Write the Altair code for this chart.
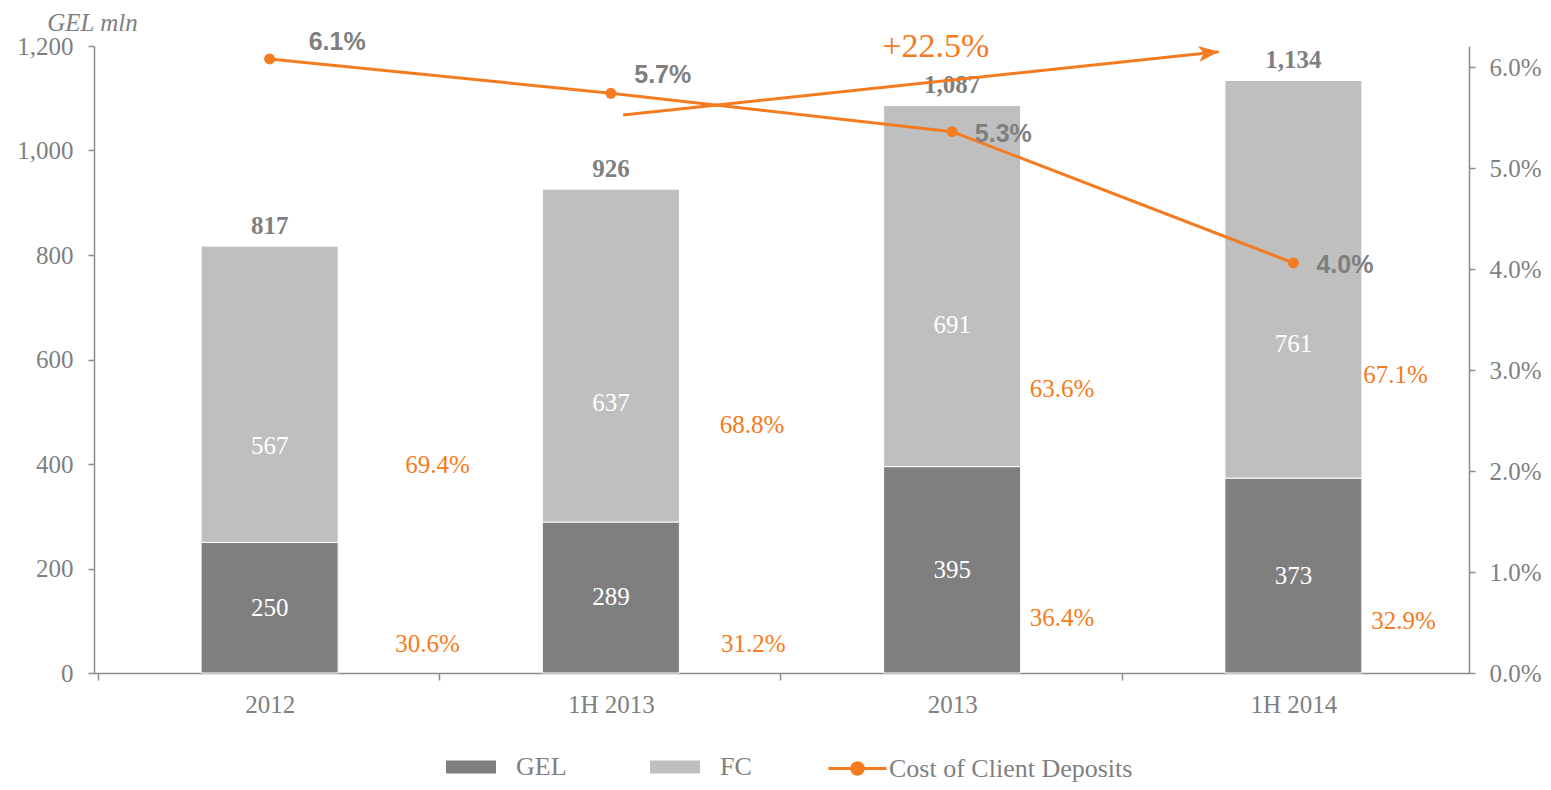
import json
import altair as alt
import pandas as pd

# ---------------- data ----------------
categories = ["2012", "1H 2013", "2013", "1H 2014"]
gel = [250, 289, 395, 373]
fc = [567, 637, 691, 761]
totals = [817, 926, 1087, 1134]
total_labels = ["817", "926", "1,087", "1,134"]
gel_share = ["30.6%", "31.2%", "36.4%", "32.9%"]
fc_share = ["69.4%", "68.8%", "63.6%", "67.1%"]
cost = [6.08, 5.74, 5.36, 4.06]
cost_labels = ["6.1%", "5.7%", "5.3%", "4.0%"]
growth_label = "+22.5%"

# ---------------- label layout (positions in axis units) ----------------
fc_label_y = [434, 517, 666, 630]
fc_share_x = [0.992, 1.914, 2.822, 3.799]
fc_share_y = [398, 475, 543, 570]
gel_share_x = [0.963, 1.917, 2.822, 3.823]
gel_share_y = [55, 55, 105, 100]
cost_label_x = [0.698, 1.652, 2.650, 3.651]
cost_label_y = [6.25, 5.92, 5.34, 4.04]
arrow_x = [1.536, 3.281]
arrow_y = [1068, 1189]
growth_label_pos = [2.452, 1198]

# ---------------- styles ----------------
GREY_TXT = "#7F7F7F"
AXIS_CLR = "#8C8C8C"
GEL_CLR = "#7F7F7F"
FC_CLR = "#BFBFBF"
ORANGE = "#F47B20"
SERIF = "Liberation Serif"
SANS = "Liberation Sans"
FS = 25

n = len(categories)
xpos = [i + 0.5 for i in range(n)]

bars_df = pd.DataFrame(
    {
        "xq": xpos * 2,
        "series": ["GEL"] * n + ["FC"] * n,
        "value": gel + fc,
        "order": [0] * n + [1] * n,
    }
)
cat_df = pd.DataFrame(
    {
        "xq": xpos,
        "gel": gel,
        "fc": fc,
        "total": totals,
        "total_label": total_labels,
        "fc_label_y": fc_label_y,
    }
)
share_df = pd.DataFrame(
    {
        "xq": fc_share_x + gel_share_x,
        "y": fc_share_y + gel_share_y,
        "label": fc_share + gel_share,
    }
)
line_df = pd.DataFrame(
    {
        "xq": xpos,
        "cost": cost,
        "series": ["Cost of Client Deposits"] * n,
        "lx": cost_label_x,
        "ly": cost_label_y,
        "label": cost_labels,
    }
)
arrow_df = pd.DataFrame(
    {
        "xq": [arrow_x[0]],
        "x2": [arrow_x[1]],
        "y": [arrow_y[0]],
        "y2": [arrow_y[1]],
        "lx": [growth_label_pos[0]],
        "ly": [growth_label_pos[1]],
        "label": [growth_label],
    }
)

xscale = alt.Scale(domain=[0, n], nice=False, zero=False)
yl_scale = alt.Scale(domain=[0, 1200], nice=False)
yr_scale = alt.Scale(domain=[0, 6.208], nice=False)

label_expr = json.dumps(categories + [""]) + "[floor(datum.value)]"
step_px = 1375 / n

x_axis = alt.Axis(
    values=[v for v in xpos] + [n + 0.5],
    labelExpr=label_expr,
    tickOffset=-step_px / 2,
    labelOffset=step_px / 2,
    labelFlush=False,
    labelOverlap=False,
    grid=False,
    title=None,
    tickSize=7,
    tickColor=AXIS_CLR,
    tickWidth=1.5,
    domainColor=AXIS_CLR,
    domainWidth=1.5,
    labelFont=SERIF,
    labelFontSize=FS,
    labelColor=GREY_TXT,
    labelPadding=12,
)

yl_axis = alt.Axis(
    values=[0, 200, 400, 600, 800, 1000, 1200],
    format=",d",
    grid=False,
    tickSize=6,
    tickColor=AXIS_CLR,
    tickWidth=1.5,
    domainColor=AXIS_CLR,
    domainWidth=1.5,
    labelFont=SERIF,
    labelFontSize=FS,
    labelColor=GREY_TXT,
    labelPadding=15,
    title="GEL mln",
    titleAngle=0,
    titleX=-2,
    titleY=-24,
    titleAlign="center",
    titleBaseline="middle",
    titleFont=SERIF,
    titleFontStyle="italic",
    titleFontWeight="normal",
    titleFontSize=FS,
    titleColor=GREY_TXT,
)

yr_axis = alt.Axis(
    orient="right",
    values=[0, 1, 2, 3, 4, 5, 6],
    labelExpr="format(datum.value, '.1f') + '%'",
    grid=False,
    tickSize=6,
    tickColor=AXIS_CLR,
    tickWidth=1.5,
    domainColor=AXIS_CLR,
    domainWidth=1.5,
    labelFont=SERIF,
    labelFontSize=FS,
    labelColor=GREY_TXT,
    labelPadding=14,
    title=None,
)

rect_path = "M-1,-0.26H1V0.26H-1Z"
line_path = "M-1,0H-0.2M0.2,0H1M-0.2,0A0.2,0.2,0,1,1,0.2,0A0.2,0.2,0,1,1,-0.2,0Z"

X = lambda f: alt.X(f, scale=xscale)
YL = lambda f: alt.Y(f, scale=yl_scale)
YR = lambda f: alt.Y(f, scale=yr_scale)

bars = (
    alt.Chart(bars_df)
    .mark_bar(width=137, stroke="white", strokeWidth=1)
    .encode(
        x=alt.X("xq:Q", scale=xscale, axis=x_axis),
        y=alt.Y("value:Q", stack="zero", scale=yl_scale, axis=yl_axis),
        color=alt.Color(
            "series:N",
            scale=alt.Scale(domain=["GEL", "FC"], range=[GEL_CLR, FC_CLR]),
            legend=alt.Legend(
                orient="none",
                legendX=352,
                legendY=696,
                direction="horizontal",
                title=None,
                symbolType=rect_path,
                symbolSize=2500,
                symbolStrokeWidth=0,
                labelFont=SERIF,
                labelFontSize=26,
                labelColor=GREY_TXT,
                labelOffset=20,
                labelLimit=400,
                columnPadding=83,
            ),
        ),
        order=alt.Order("order:Q"),
    )
)

totals_text = (
    alt.Chart(cat_df)
    .mark_text(font=SERIF, fontSize=FS, fontWeight="bold", color=GREY_TXT, dy=-20, baseline="middle")
    .encode(x=X("xq:Q"), y=YL("total:Q"), text="total_label:N")
)

gel_text = (
    alt.Chart(cat_df)
    .transform_calculate(mid="datum.gel / 2")
    .mark_text(font=SERIF, fontSize=FS, color="white", baseline="middle")
    .encode(x=X("xq:Q"), y=YL("mid:Q"), text="gel:Q")
)

fc_text = (
    alt.Chart(cat_df)
    .mark_text(font=SERIF, fontSize=FS, color="white", baseline="middle")
    .encode(x=X("xq:Q"), y=YL("fc_label_y:Q"), text="fc:Q")
)

share_text = (
    alt.Chart(share_df)
    .mark_text(font=SERIF, fontSize=FS, color=ORANGE, baseline="middle")
    .encode(x=X("xq:Q"), y=YL("y:Q"), text="label:N")
)

arrow_line = (
    alt.Chart(arrow_df)
    .mark_rule(color=ORANGE, strokeWidth=3)
    .encode(x=X("xq:Q"), x2="x2:Q", y=YL("y:Q"), y2="y2:Q")
)

arrow_head = (
    alt.Chart(arrow_df)
    .mark_point(
        shape="M0,0L-1,-0.4L-0.75,0L-1,0.4Z",
        size=1600,
        filled=True,
        color=ORANGE,
        opacity=1,
        angle=354,
    )
    .encode(x=X("x2:Q"), y=YL("y2:Q"))
)

growth_text = (
    alt.Chart(arrow_df)
    .mark_text(font=SERIF, fontSize=34, color=ORANGE, baseline="middle", align="center")
    .encode(x=X("lx:Q"), y=YL("ly:Q"), text="label:N")
)

left = alt.layer(bars, totals_text, gel_text, fc_text, share_text, arrow_line, arrow_head, growth_text)

line = (
    alt.Chart(line_df)
    .mark_line(strokeWidth=3)
    .encode(
        x=X("xq:Q"),
        y=alt.Y("cost:Q", scale=yr_scale, axis=yr_axis),
        color=alt.Color(
            "series:N",
            scale=alt.Scale(range=[ORANGE]),
            legend=alt.Legend(
                orient="none",
                legendX=733,
                legendY=692,
                title=None,
                symbolType=line_path,
                symbolSize=3364,
                symbolStrokeWidth=3,
                symbolFillColor=ORANGE,
                symbolStrokeColor=ORANGE,
                labelFont=SERIF,
                labelFontSize=26,
                labelColor=GREY_TXT,
                labelOffset=1,
                labelLimit=400,
            ),
        ),
    )
)

points = (
    alt.Chart(line_df)
    .mark_circle(size=120, opacity=1, color=ORANGE)
    .encode(x=X("xq:Q"), y=YR("cost:Q"))
)

line_text = (
    alt.Chart(line_df)
    .mark_text(font=SANS, fontSize=FS, fontWeight="bold", color=GREY_TXT, baseline="middle")
    .encode(x=X("lx:Q"), y=YR("ly:Q"), text="label:N")
)

right = alt.layer(line, points, line_text)

chart = (
    alt.layer(left, right)
    .resolve_scale(y="independent", color="independent")
    .properties(
        width=1375,
        height=627,
        autosize=alt.AutoSizeParams(type="none"),
        padding={"left": 86, "top": 38, "right": 74, "bottom": 109},
    )
    .configure_view(stroke=None)
)

chart.save("out.html", embed_options={"renderer": "svg", "actions": False})
